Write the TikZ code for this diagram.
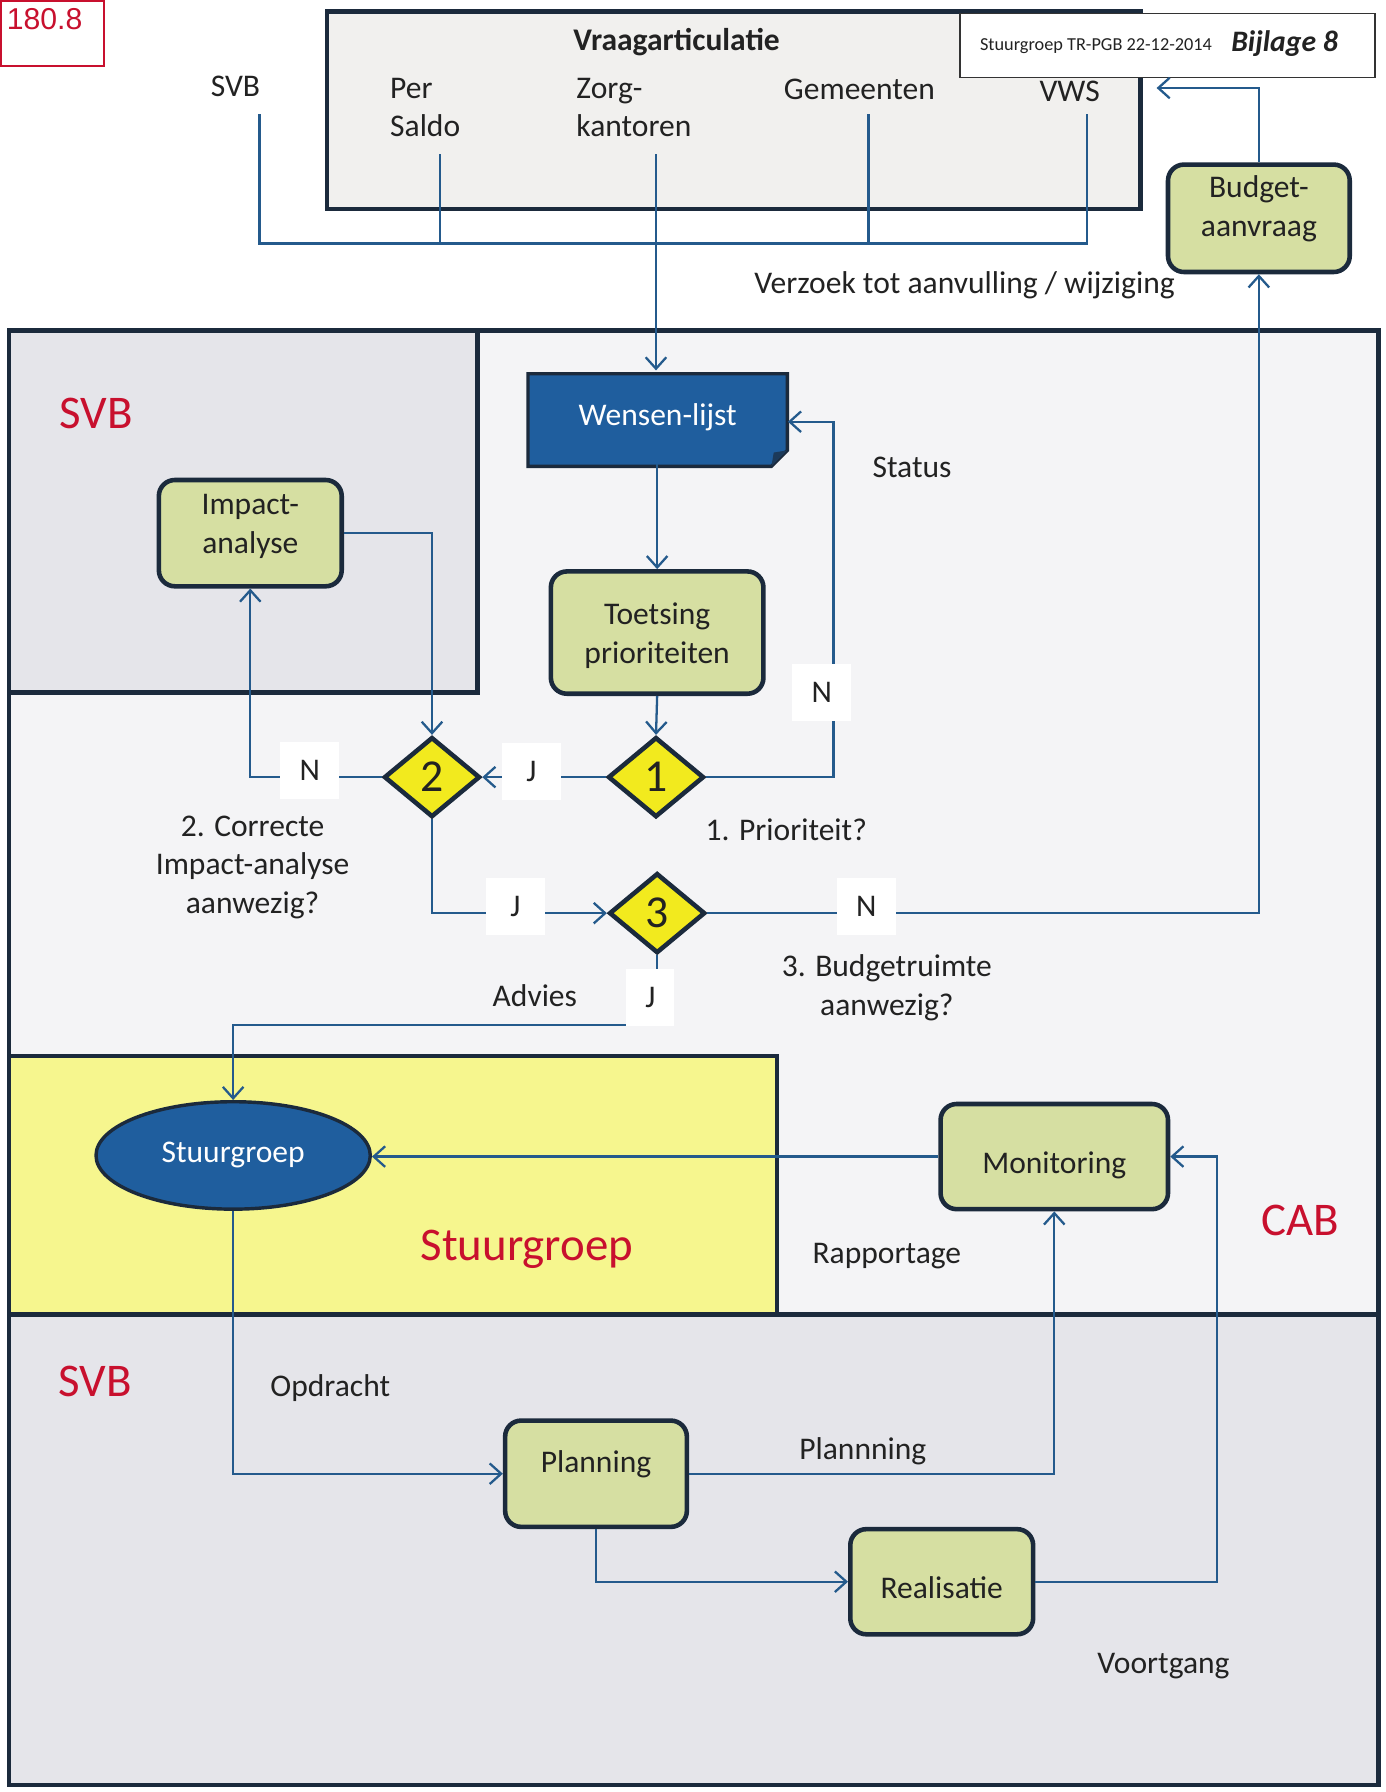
\documentclass[tikz,border=0pt]{standalone}
\usepackage{fontspec}
\setmainfont{Carlito}
\newfontfamily\arialf{Liberation Sans}
\usetikzlibrary{shapes.geometric,arrows.meta}
\definecolor{navy}{HTML}{1B2A3C}
\definecolor{lineblue}{HTML}{245A8C}
\definecolor{wblue}{HTML}{1F5E9E}
\definecolor{boxgreen}{HTML}{D6DFA2}
\definecolor{dyellow}{HTML}{F2EA1E}
\definecolor{regyellow}{HTML}{F6F68E}
\definecolor{svbfill}{HTML}{E5E5EA}
\definecolor{cabfill}{HTML}{F4F4F6}
\definecolor{vraagfill}{HTML}{F1F0EE}
\definecolor{redc}{HTML}{C8102E}
\definecolor{txt}{HTML}{222222}
\newcommand{\shifttext}[2]{\raisebox{#1}[\height][\depth]{#2}}
\newcommand{\twoline}[3]{\raisebox{#1}[\height][\depth]{\begin{tabular}{@{}c@{}}#2\\#3\end{tabular}}}
\begin{document}
\begin{tikzpicture}[x=0.5pt,y=-0.5pt,
  base/.style={font=\fontsize{13.8}{17}\selectfont, text=txt},
  lbl/.style={base, align=center, inner sep=0pt},
  line/.style={draw=lineblue, line width=1pt},
  conn/.style={line, -{Straight Barb[length=5pt,width=9pt,line width=1pt]}},
  proc/.style={base, rectangle, rounded corners=7pt, draw=navy, line width=2pt, fill=boxgreen, inner sep=0pt},
  dec/.style={diamond, draw=navy, line width=2pt, fill=dyellow, minimum width=42pt, minimum height=35pt, inner sep=0pt, font=\fontsize{20}{20}\selectfont, text=txt},
  yn/.style={base, fill=white, minimum width=26pt, minimum height=25pt, inner sep=0pt},
  redlbl/.style={text=redc, font=\fontsize{20.5}{20.5}\selectfont, inner sep=0pt},
  region/.style={draw=navy, line width=2pt}
]
\useasboundingbox (0,0) rectangle (1212,1568);
\fill[white] (0,0) rectangle (1212,1568);

% regions
\fill[cabfill] (8,289) rectangle (1206,1150);
\filldraw[region, fill=svbfill] (8,289) rectangle (418,606);
\filldraw[region, fill=regyellow] (8,924) rectangle (680,1150);
\fill[svbfill] (8,1150) rectangle (1206,1562);
\draw[region] (8,289) rectangle (1206,1562);
\draw[region] (8,1150) -- (1206,1150);

% red corner box
\draw[redc, line width=1pt] (1,1) rectangle (91,58);
\node[text=redc, font=\arialf\fontsize{13.2}{13.2}\selectfont, inner sep=0pt] (num) at (39,17) {180.8};

% Vraagarticulatie box
\filldraw[region, fill=vraagfill] (286,10) rectangle (998,183);
\node[base, font=\fontsize{13.8}{17}\selectfont\bfseries, inner sep=0pt] (vraag) at (592,37) {Vraagarticulatie};
\node[lbl, align=left, anchor=west] (persaldo) at (341,94) {Per\\Saldo};
\node[lbl, align=left, anchor=west] (zorg) at (504,94) {Zorg-\\kantoren};
\node[lbl] (gem) at (752,78) {Gemeenten};
\node[lbl] (vws) at (936,80) {VWS};
\node[lbl] (svbtop) at (206,76) {SVB};

% header
\node[draw=black!80, line width=0.6pt, fill=white, minimum width=181.5pt, minimum height=28pt, inner sep=0pt] (header) at (1021.5,40) {};
\node[base, font=\fontsize{8}{8}\selectfont, inner sep=0pt] (hdate) at (959,40) {Stuurgroep TR-PGB 22-12-2014};
\node[base, font=\fontsize{13}{13}\selectfont\bfseries\itshape, inner sep=0pt] (hbij) at (1124,38) {Bijlage 8};

% Wensen-lijst shape
\filldraw[draw=navy, line width=1.5pt, fill=wblue] (462,327) -- (689,327) -- (689,394) -- (675,408) -- (462,408) -- cycle;
\fill[navy!70!wblue] (689,394) -- (675,408) -- (677,396) -- cycle;
\node[base, text=white, minimum width=113.5pt, minimum height=40.5pt, inner sep=0pt] (wensen) at (575.5,365) {Wensen-lijst};

% process boxes
\node[proc, minimum width=80pt, minimum height=46.5pt] (impact) at (219,466.5) {\twoline{3pt}{Impact-}{analyse}};
\node[proc, minimum width=93pt, minimum height=53.5pt] (toets) at (575,553.5) {\twoline{-1.5pt}{Toetsing}{prioriteiten}};
\node[proc, minimum width=79.5pt, minimum height=47pt] (budget) at (1101.5,191) {\twoline{4pt}{Budget-}{aanvraag}};
\node[proc, minimum width=99.5pt, minimum height=46pt] (monitor) at (922.5,1012) {\shifttext{-4pt}{Monitoring}};
\node[proc, minimum width=79.5pt, minimum height=46.5pt] (planning) at (521.5,1289.5) {\shifttext{4pt}{Planning}};
\node[proc, minimum width=80pt, minimum height=46pt] (realis) at (824,1384) {\shifttext{-2.5pt}{Realisatie}};
\node[ellipse, draw=navy, line width=1.5pt, fill=wblue, minimum width=120pt, minimum height=47pt, inner sep=0pt, base, text=white] (sg) at (204,1011) {Stuurgroep};

% decisions
\node[dec] (d1) at (574,680) {1};
\node[dec] (d2) at (378,680) {2};
\node[dec] (d3) at (575,799) {3};

% top collector lines
\coordinate (cSVB) at (227,100);
\coordinate (cPS) at (385,135);
\coordinate (cZorg) at (574,135);
\coordinate (cGem) at (760,100);
\coordinate (cVWS) at (951,100);
\coordinate (cVraagIn) at (1012,77);
\draw[line] (cSVB) |- (cVWS |- 0,213) -- (cVWS);
\draw[line] (cPS) -- (cPS |- 0,213);
\draw[line] (cGem) -- (cGem |- 0,213);
\draw[conn] (cZorg) -- (cZorg |- wensen.north);

% connectors
\draw[conn] (budget.north) |- (cVraagIn);
\draw[conn] (wensen.south -| toets.north) -- (toets.north);
\draw[conn] (toets.south) -- (d1.north);
\draw[conn] (d1.east) -| ([xshift=20pt]wensen.east |- 0,369) -- (wensen.east |- 0,369);
\draw[conn] (d1.west) -- (d2.east);
\draw[conn] (impact.east) -| (d2.north);
\draw[conn] (d2.west) -| (impact.south);
\draw[conn] (d2.south) |- (d3.west);
\draw[conn] (d3.east) -| (budget.south);
\draw[conn] (d3.south) -- (d3.south |- 0,897) -| (sg.north);
\draw[conn] (monitor.west) -- (monitor.west -| sg.east);
\draw[conn] (sg.south) |- (planning.west);
\draw[conn] (planning.east) -| (monitor.south);
\draw[conn] (planning.south) |- (realis.west);
\draw[conn] (realis.east) -| ([xshift=20.5pt]monitor.east) -- (monitor.east);

% yes/no labels
\node[yn] (n1) at (719,606) {N};
\node[yn] (j1) at (465,675) {J};
\node[yn] (n2) at (271,674) {N};
\node[yn] (j2) at (451,793) {J};
\node[yn] (n3) at (758,793) {N};
\node[yn, minimum width=21pt] (j3) at (569,873) {J};

% text labels
\node[lbl] (verzoek) at (844,250) {Verzoek tot aanvulling / wijziging};
\node[lbl] (status) at (798,409) {Status};
\node[lbl] (q1) at (688,726) {1. Prioriteit?};
\node[lbl] (q2) at (221,759) {2. Correcte\\Impact-analyse\\aanwezig?};
\node[lbl] (q3) at (776,864) {3. Budgetruimte\\aanwezig?};
\node[lbl] (advies) at (468,871) {Advies};
\node[lbl] (rapp) at (776,1099) {Rapportage};
\node[lbl] (opdr) at (289,1215) {Opdracht};
\node[lbl] (plann) at (755,1270) {Plannning};
\node[lbl] (voort) at (1018,1458) {Voortgang};

\node[redlbl] (svb1) at (84,362) {SVB};
\node[redlbl] (svb2) at (83,1209) {SVB};
\node[redlbl] (sgr) at (461,1093) {Stuurgroep};
\node[redlbl] (cab) at (1138,1068) {CAB};
\end{tikzpicture}
\end{document}
